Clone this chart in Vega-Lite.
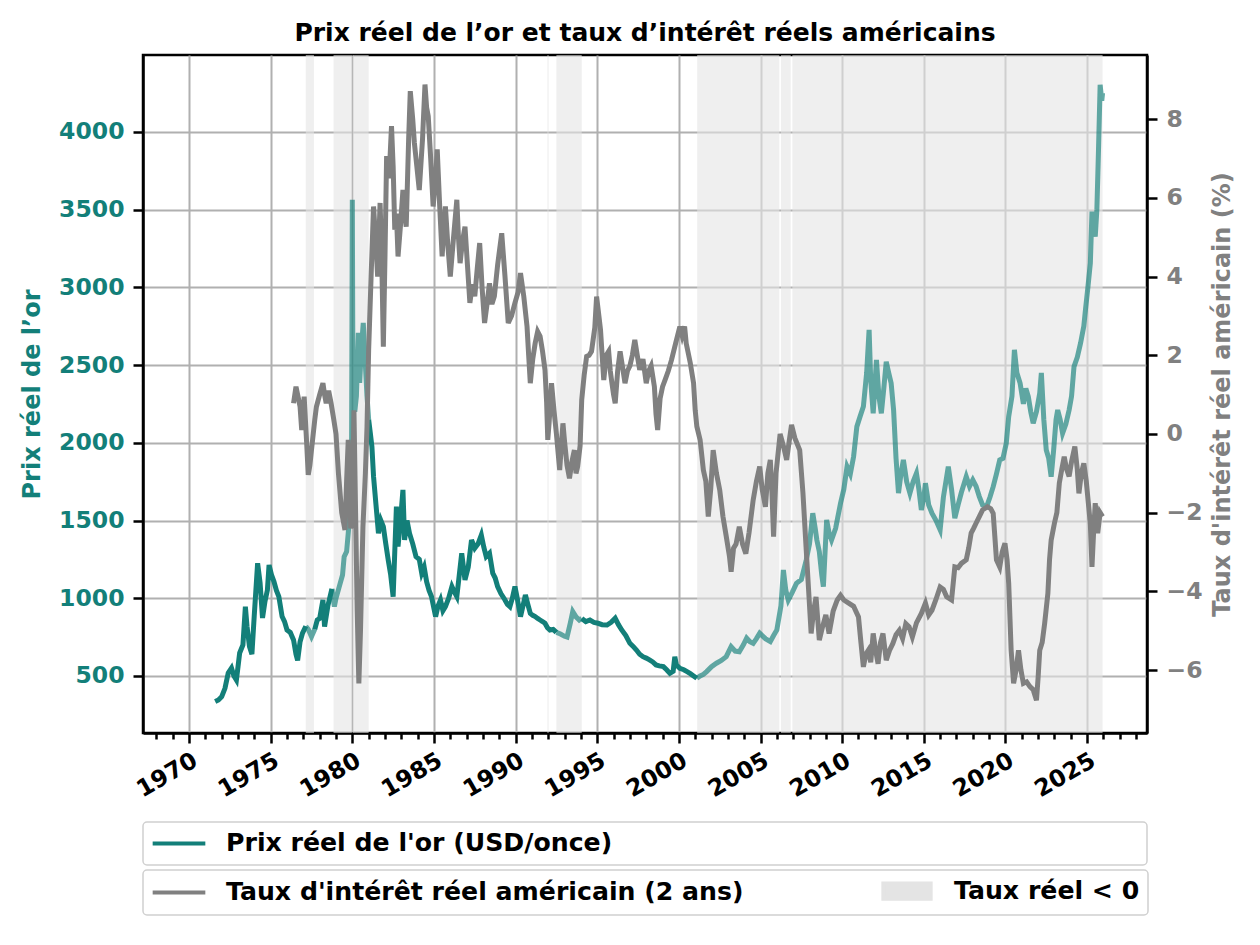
{
  "$schema": "https://vega.github.io/schema/vega-lite/v6.json",
  "width": 1004,
  "height": 678,
  "autosize": {"type": "none"},
  "padding": {"left": 143, "top": 55, "right": 113, "bottom": 212},
  "background": "white",
  "title": {"text": "Prix réel de l’or et taux d’intérêt réels américains", "font": "DejaVu Sans", "fontSize": 25, "fontWeight": "bold", "color": "black", "anchor": "middle", "offset": 9},
  "config": {
    "font": "DejaVu Sans",
    "view": {"stroke": "black", "strokeWidth": 2.5},
    "legend": {"labelFont": "DejaVu Sans", "labelFontSize": 25.2, "labelFontWeight": "bold", "labelColor": "black", "labelLimit": 800, "fillColor": "white", "strokeColor": "#d0d0d0", "strokeWidth": 1.5, "cornerRadius": 4}
  },
  "datasets": {
    "gold": [
      {"t":1971.6,"g":335,"s":0,"r":"pos"},{"t":1971.8,"g":345,"s":0,"r":"pos"},{"t":1972.0,"g":367,"s":0,"r":"pos"},{"t":1972.2,"g":420,"s":0,"r":"pos"},{"t":1972.4,"g":519,"s":0,"r":"pos"},{"t":1972.6,"g":551,"s":0,"r":"pos"},{"t":1972.75,"g":500,"s":0,"r":"pos"},{"t":1972.9,"g":474,"s":0,"r":"pos"},{"t":1973.0,"g":560,"s":0,"r":"pos"},{"t":1973.1,"g":648,"s":0,"r":"pos"},{"t":1973.3,"g":700,"s":0,"r":"pos"},{"t":1973.45,"g":946,"s":0,"r":"pos"},{"t":1973.55,"g":820,"s":0,"r":"pos"},{"t":1973.7,"g":689,"s":0,"r":"pos"},{"t":1973.85,"g":640,"s":0,"r":"pos"},{"t":1974.0,"g":900,"s":0,"r":"pos"},{"t":1974.2,"g":1225,"s":0,"r":"pos"},{"t":1974.35,"g":1100,"s":0,"r":"pos"},{"t":1974.5,"g":873,"s":0,"r":"pos"},{"t":1974.65,"g":980,"s":0,"r":"pos"},{"t":1974.8,"g":1053,"s":0,"r":"pos"},{"t":1974.9,"g":1214,"s":0,"r":"pos"},{"t":1975.05,"g":1150,"s":0,"r":"pos"},{"t":1975.2,"g":1107,"s":0,"r":"pos"},{"t":1975.35,"g":1050,"s":0,"r":"pos"},{"t":1975.5,"g":1010,"s":0,"r":"pos"},{"t":1975.7,"g":882,"s":0,"r":"pos"},{"t":1975.85,"g":850,"s":0,"r":"pos"},{"t":1976.0,"g":796,"s":0,"r":"pos"},{"t":1976.2,"g":780,"s":0,"r":"pos"},{"t":1976.4,"g":732,"s":0,"r":"pos"},{"t":1976.55,"g":640,"s":0,"r":"pos"},{"t":1976.65,"g":600,"s":0,"r":"pos"},{"t":1976.8,"g":720,"s":0,"r":"pos"},{"t":1976.95,"g":776,"s":0,"r":"pos"},{"t":1977.15,"g":820,"s":0,"r":"pos"},
      {"t":1977.15,"g":820,"s":1,"r":"neg"},{"t":1977.3,"g":800,"s":1,"r":"neg"},{"t":1977.5,"g":753,"s":1,"r":"neg"},{"t":1977.7,"g":800,"s":1,"r":"neg"},
      {"t":1977.7,"g":800,"s":2,"r":"pos"},{"t":1977.85,"g":860,"s":2,"r":"pos"},{"t":1978.0,"g":870,"s":2,"r":"pos"},{"t":1978.2,"g":989,"s":2,"r":"pos"},{"t":1978.3,"g":817,"s":2,"r":"pos"},{"t":1978.5,"g":950,"s":2,"r":"pos"},{"t":1978.75,"g":1060,"s":2,"r":"pos"},
      {"t":1978.75,"g":1060,"s":3,"r":"neg"},{"t":1978.9,"g":946,"s":3,"r":"neg"},{"t":1979.0,"g":1000,"s":3,"r":"neg"},{"t":1979.2,"g":1075,"s":3,"r":"neg"},{"t":1979.4,"g":1150,"s":3,"r":"neg"},{"t":1979.5,"g":1268,"s":3,"r":"neg"},{"t":1979.65,"g":1300,"s":3,"r":"neg"},{"t":1979.75,"g":1418,"s":3,"r":"neg"},{"t":1979.85,"g":1550,"s":3,"r":"neg"},{"t":1979.95,"g":1800,"s":3,"r":"neg"},{"t":1980.0,"g":3563,"s":3,"r":"neg"},{"t":1980.03,"g":2600,"s":3,"r":"neg"},{"t":1980.08,"g":2400,"s":3,"r":"neg"},{"t":1980.15,"g":2200,"s":3,"r":"neg"},{"t":1980.25,"g":2300,"s":3,"r":"neg"},{"t":1980.37,"g":2707,"s":3,"r":"neg"},{"t":1980.45,"g":2385,"s":3,"r":"neg"},{"t":1980.55,"g":2600,"s":3,"r":"neg"},{"t":1980.67,"g":2772,"s":3,"r":"neg"},{"t":1980.8,"g":2500,"s":3,"r":"neg"},{"t":1980.9,"g":2300,"s":3,"r":"neg"},{"t":1981.0,"g":2150,"s":3,"r":"neg"},
      {"t":1981.0,"g":2150,"s":4,"r":"pos"},{"t":1981.1,"g":2064,"s":4,"r":"pos"},{"t":1981.2,"g":1975,"s":4,"r":"pos"},{"t":1981.3,"g":1782,"s":4,"r":"pos"},{"t":1981.45,"g":1600,"s":4,"r":"pos"},{"t":1981.6,"g":1418,"s":4,"r":"pos"},{"t":1981.75,"g":1500,"s":4,"r":"pos"},{"t":1981.9,"g":1461,"s":4,"r":"pos"},{"t":1982.05,"g":1350,"s":4,"r":"pos"},{"t":1982.2,"g":1246,"s":4,"r":"pos"},{"t":1982.35,"g":1150,"s":4,"r":"pos"},{"t":1982.5,"g":1010,"s":4,"r":"pos"},{"t":1982.6,"g":1300,"s":4,"r":"pos"},{"t":1982.7,"g":1589,"s":4,"r":"pos"},{"t":1982.8,"g":1332,"s":4,"r":"pos"},{"t":1982.95,"g":1500,"s":4,"r":"pos"},{"t":1983.1,"g":1697,"s":4,"r":"pos"},{"t":1983.2,"g":1375,"s":4,"r":"pos"},{"t":1983.35,"g":1500,"s":4,"r":"pos"},{"t":1983.5,"g":1418,"s":4,"r":"pos"},{"t":1983.7,"g":1350,"s":4,"r":"pos"},{"t":1983.9,"g":1268,"s":4,"r":"pos"},{"t":1984.1,"g":1250,"s":4,"r":"pos"},{"t":1984.25,"g":1161,"s":4,"r":"pos"},{"t":1984.4,"g":1200,"s":4,"r":"pos"},{"t":1984.55,"g":1107,"s":4,"r":"pos"},{"t":1984.7,"g":1050,"s":4,"r":"pos"},{"t":1984.85,"g":1010,"s":4,"r":"pos"},{"t":1985.1,"g":882,"s":4,"r":"pos"},{"t":1985.25,"g":950,"s":4,"r":"pos"},{"t":1985.4,"g":989,"s":4,"r":"pos"},{"t":1985.55,"g":920,"s":4,"r":"pos"},{"t":1985.7,"g":946,"s":4,"r":"pos"},{"t":1985.9,"g":1000,"s":4,"r":"pos"},{"t":1986.1,"g":1075,"s":4,"r":"pos"},{"t":1986.25,"g":1040,"s":4,"r":"pos"},{"t":1986.4,"g":1010,"s":4,"r":"pos"},{"t":1986.55,"g":1150,"s":4,"r":"pos"},{"t":1986.7,"g":1289,"s":4,"r":"pos"},{"t":1986.9,"g":1118,"s":4,"r":"pos"},{"t":1987.1,"g":1200,"s":4,"r":"pos"},{"t":1987.3,"g":1375,"s":4,"r":"pos"},{"t":1987.5,"g":1322,"s":4,"r":"pos"},{"t":1987.7,"g":1350,"s":4,"r":"pos"},{"t":1987.9,"g":1407,"s":4,"r":"pos"},{"t":1988.05,"g":1330,"s":4,"r":"pos"},{"t":1988.2,"g":1268,"s":4,"r":"pos"},{"t":1988.4,"g":1289,"s":4,"r":"pos"},{"t":1988.6,"g":1161,"s":4,"r":"pos"},{"t":1988.75,"g":1130,"s":4,"r":"pos"},{"t":1988.9,"g":1075,"s":4,"r":"pos"},{"t":1989.1,"g":1030,"s":4,"r":"pos"},{"t":1989.35,"g":989,"s":4,"r":"pos"},{"t":1989.5,"g":960,"s":4,"r":"pos"},{"t":1989.65,"g":946,"s":4,"r":"pos"},{"t":1989.8,"g":1000,"s":4,"r":"pos"},{"t":1989.96,"g":1075,"s":4,"r":"pos"},{"t":1990.1,"g":1000,"s":4,"r":"pos"},{"t":1990.3,"g":882,"s":4,"r":"pos"},{"t":1990.45,"g":950,"s":4,"r":"pos"},{"t":1990.6,"g":1021,"s":4,"r":"pos"},{"t":1990.75,"g":960,"s":4,"r":"pos"},{"t":1990.9,"g":903,"s":4,"r":"pos"},{"t":1991.05,"g":890,"s":4,"r":"pos"},{"t":1991.2,"g":882,"s":4,"r":"pos"},{"t":1991.35,"g":870,"s":4,"r":"pos"},{"t":1991.5,"g":860,"s":4,"r":"pos"},{"t":1991.65,"g":850,"s":4,"r":"pos"},{"t":1991.8,"g":839,"s":4,"r":"pos"},{"t":1991.95,"g":810,"s":4,"r":"pos"},{"t":1992.1,"g":796,"s":4,"r":"pos"},{"t":1992.3,"g":800,"s":4,"r":"pos"},{"t":1992.5,"g":780,"s":4,"r":"pos"},
      {"t":1992.5,"g":780,"s":5,"r":"neg"},{"t":1992.75,"g":770,"s":5,"r":"neg"},{"t":1993.0,"g":755,"s":5,"r":"neg"},{"t":1993.15,"g":750,"s":5,"r":"neg"},{"t":1993.35,"g":840,"s":5,"r":"neg"},{"t":1993.5,"g":914,"s":5,"r":"neg"},{"t":1993.7,"g":880,"s":5,"r":"neg"},{"t":1993.9,"g":860,"s":5,"r":"neg"},{"t":1994.05,"g":870,"s":5,"r":"neg"},
      {"t":1994.05,"g":870,"s":6,"r":"pos"},{"t":1994.3,"g":850,"s":6,"r":"pos"},{"t":1994.55,"g":860,"s":6,"r":"pos"},{"t":1994.8,"g":845,"s":6,"r":"pos"},{"t":1995.05,"g":839,"s":6,"r":"pos"},{"t":1995.3,"g":830,"s":6,"r":"pos"},{"t":1995.6,"g":828,"s":6,"r":"pos"},{"t":1995.85,"g":845,"s":6,"r":"pos"},{"t":1996.1,"g":871,"s":6,"r":"pos"},{"t":1996.3,"g":830,"s":6,"r":"pos"},{"t":1996.5,"g":796,"s":6,"r":"pos"},{"t":1996.75,"g":760,"s":6,"r":"pos"},{"t":1997.0,"g":710,"s":6,"r":"pos"},{"t":1997.2,"g":690,"s":6,"r":"pos"},{"t":1997.4,"g":667,"s":6,"r":"pos"},{"t":1997.6,"g":640,"s":6,"r":"pos"},{"t":1997.8,"g":624,"s":6,"r":"pos"},{"t":1998.0,"g":615,"s":6,"r":"pos"},{"t":1998.2,"g":603,"s":6,"r":"pos"},{"t":1998.4,"g":590,"s":6,"r":"pos"},{"t":1998.6,"g":571,"s":6,"r":"pos"},{"t":1998.8,"g":565,"s":6,"r":"pos"},{"t":1999.05,"g":560,"s":6,"r":"pos"},{"t":1999.25,"g":540,"s":6,"r":"pos"},{"t":1999.45,"g":517,"s":6,"r":"pos"},{"t":1999.65,"g":530,"s":6,"r":"pos"},{"t":1999.75,"g":624,"s":6,"r":"pos"},{"t":1999.85,"g":570,"s":6,"r":"pos"},{"t":2000.06,"g":549,"s":6,"r":"pos"},{"t":2000.3,"g":540,"s":6,"r":"pos"},{"t":2000.5,"g":528,"s":6,"r":"pos"},{"t":2000.7,"g":515,"s":6,"r":"pos"},{"t":2000.9,"g":500,"s":6,"r":"pos"},{"t":2001.1,"g":485,"s":6,"r":"pos"},
      {"t":2001.1,"g":485,"s":7,"r":"neg"},{"t":2001.3,"g":500,"s":7,"r":"neg"},{"t":2001.5,"g":510,"s":7,"r":"neg"},{"t":2001.7,"g":528,"s":7,"r":"neg"},{"t":2002.0,"g":560,"s":7,"r":"neg"},{"t":2002.3,"g":582,"s":7,"r":"neg"},{"t":2002.6,"g":600,"s":7,"r":"neg"},{"t":2002.9,"g":624,"s":7,"r":"neg"},{"t":2003.2,"g":689,"s":7,"r":"neg"},{"t":2003.45,"g":660,"s":7,"r":"neg"},{"t":2003.7,"g":656,"s":7,"r":"neg"},{"t":2003.95,"g":700,"s":7,"r":"neg"},{"t":2004.15,"g":743,"s":7,"r":"neg"},{"t":2004.35,"g":720,"s":7,"r":"neg"},{"t":2004.55,"g":710,"s":7,"r":"neg"},{"t":2004.75,"g":740,"s":7,"r":"neg"},{"t":2004.95,"g":775,"s":7,"r":"neg"},{"t":2005.3,"g":740,"s":7,"r":"neg"},{"t":2005.6,"g":721,"s":7,"r":"neg"},{"t":2005.8,"g":760,"s":7,"r":"neg"},{"t":2006.0,"g":796,"s":7,"r":"neg"},{"t":2006.25,"g":950,"s":7,"r":"neg"},{"t":2006.4,"g":1182,"s":7,"r":"neg"},{"t":2006.55,"g":1050,"s":7,"r":"neg"},{"t":2006.7,"g":989,"s":7,"r":"neg"},{"t":2006.95,"g":1040,"s":7,"r":"neg"},{"t":2007.2,"g":1096,"s":7,"r":"neg"},{"t":2007.5,"g":1120,"s":7,"r":"neg"},{"t":2007.8,"g":1246,"s":7,"r":"neg"},{"t":2008.0,"g":1350,"s":7,"r":"neg"},{"t":2008.2,"g":1547,"s":7,"r":"neg"},{"t":2008.35,"g":1450,"s":7,"r":"neg"},{"t":2008.45,"g":1375,"s":7,"r":"neg"},{"t":2008.6,"g":1300,"s":7,"r":"neg"},{"t":2008.75,"g":1150,"s":7,"r":"neg"},{"t":2008.85,"g":1075,"s":7,"r":"neg"},{"t":2009.05,"g":1504,"s":7,"r":"neg"},{"t":2009.2,"g":1420,"s":7,"r":"neg"},{"t":2009.35,"g":1375,"s":7,"r":"neg"},{"t":2009.6,"g":1450,"s":7,"r":"neg"},{"t":2009.9,"g":1611,"s":7,"r":"neg"},{"t":2010.1,"g":1700,"s":7,"r":"neg"},{"t":2010.3,"g":1847,"s":7,"r":"neg"},{"t":2010.5,"g":1800,"s":7,"r":"neg"},{"t":2010.7,"g":1911,"s":7,"r":"neg"},{"t":2010.9,"g":2104,"s":7,"r":"neg"},{"t":2011.1,"g":2170,"s":7,"r":"neg"},{"t":2011.3,"g":2233,"s":7,"r":"neg"},{"t":2011.5,"g":2450,"s":7,"r":"neg"},{"t":2011.65,"g":2727,"s":7,"r":"neg"},{"t":2011.75,"g":2400,"s":7,"r":"neg"},{"t":2011.9,"g":2190,"s":7,"r":"neg"},{"t":2012.1,"g":2533,"s":7,"r":"neg"},{"t":2012.25,"g":2300,"s":7,"r":"neg"},{"t":2012.4,"g":2190,"s":7,"r":"neg"},{"t":2012.55,"g":2350,"s":7,"r":"neg"},{"t":2012.7,"g":2522,"s":7,"r":"neg"},{"t":2012.85,"g":2450,"s":7,"r":"neg"},{"t":2013.0,"g":2383,"s":7,"r":"neg"},{"t":2013.15,"g":2211,"s":7,"r":"neg"},{"t":2013.3,"g":1900,"s":7,"r":"neg"},{"t":2013.45,"g":1676,"s":7,"r":"neg"},{"t":2013.6,"g":1800,"s":7,"r":"neg"},{"t":2013.75,"g":1890,"s":7,"r":"neg"},{"t":2013.95,"g":1750,"s":7,"r":"neg"},{"t":2014.15,"g":1676,"s":7,"r":"neg"},{"t":2014.35,"g":1750,"s":7,"r":"neg"},{"t":2014.55,"g":1804,"s":7,"r":"neg"},{"t":2014.7,"g":1700,"s":7,"r":"neg"},{"t":2014.85,"g":1568,"s":7,"r":"neg"},{"t":2015.0,"g":1650,"s":7,"r":"neg"},{"t":2015.1,"g":1740,"s":7,"r":"neg"},{"t":2015.3,"g":1600,"s":7,"r":"neg"},{"t":2015.5,"g":1547,"s":7,"r":"neg"},{"t":2015.75,"g":1500,"s":7,"r":"neg"},{"t":2016.0,"g":1440,"s":7,"r":"neg"},{"t":2016.2,"g":1650,"s":7,"r":"neg"},{"t":2016.5,"g":1847,"s":7,"r":"neg"},{"t":2016.7,"g":1700,"s":7,"r":"neg"},{"t":2016.9,"g":1515,"s":7,"r":"neg"},{"t":2017.1,"g":1600,"s":7,"r":"neg"},{"t":2017.3,"g":1680,"s":7,"r":"neg"},{"t":2017.6,"g":1782,"s":7,"r":"neg"},{"t":2017.8,"g":1720,"s":7,"r":"neg"},{"t":2018.0,"g":1761,"s":7,"r":"neg"},{"t":2018.2,"g":1720,"s":7,"r":"neg"},{"t":2018.4,"g":1654,"s":7,"r":"neg"},{"t":2018.6,"g":1600,"s":7,"r":"neg"},{"t":2018.85,"g":1590,"s":7,"r":"neg"},{"t":2019.05,"g":1650,"s":7,"r":"neg"},{"t":2019.25,"g":1718,"s":7,"r":"neg"},{"t":2019.45,"g":1800,"s":7,"r":"neg"},{"t":2019.65,"g":1890,"s":7,"r":"neg"},{"t":2019.85,"g":1900,"s":7,"r":"neg"},{"t":2020.05,"g":1997,"s":7,"r":"neg"},{"t":2020.2,"g":2169,"s":7,"r":"neg"},{"t":2020.4,"g":2300,"s":7,"r":"neg"},{"t":2020.55,"g":2598,"s":7,"r":"neg"},{"t":2020.7,"g":2450,"s":7,"r":"neg"},{"t":2020.9,"g":2383,"s":7,"r":"neg"},{"t":2021.1,"g":2250,"s":7,"r":"neg"},{"t":2021.25,"g":2350,"s":7,"r":"neg"},{"t":2021.4,"g":2297,"s":7,"r":"neg"},{"t":2021.55,"g":2200,"s":7,"r":"neg"},{"t":2021.7,"g":2126,"s":7,"r":"neg"},{"t":2021.9,"g":2200,"s":7,"r":"neg"},{"t":2022.1,"g":2319,"s":7,"r":"neg"},{"t":2022.2,"g":2450,"s":7,"r":"neg"},{"t":2022.35,"g":2150,"s":7,"r":"neg"},{"t":2022.5,"g":1954,"s":7,"r":"neg"},{"t":2022.65,"g":1900,"s":7,"r":"neg"},{"t":2022.8,"g":1782,"s":7,"r":"neg"},{"t":2022.95,"g":1950,"s":7,"r":"neg"},{"t":2023.1,"g":2150,"s":7,"r":"neg"},{"t":2023.2,"g":2211,"s":7,"r":"neg"},{"t":2023.35,"g":2150,"s":7,"r":"neg"},{"t":2023.5,"g":2061,"s":7,"r":"neg"},{"t":2023.7,"g":2120,"s":7,"r":"neg"},{"t":2023.9,"g":2211,"s":7,"r":"neg"},{"t":2024.05,"g":2300,"s":7,"r":"neg"},{"t":2024.2,"g":2490,"s":7,"r":"neg"},{"t":2024.4,"g":2550,"s":7,"r":"neg"},{"t":2024.6,"g":2641,"s":7,"r":"neg"},{"t":2024.8,"g":2750,"s":7,"r":"neg"},{"t":2024.9,"g":2855,"s":7,"r":"neg"},{"t":2025.05,"g":3000,"s":7,"r":"neg"},{"t":2025.2,"g":3156,"s":7,"r":"neg"},{"t":2025.3,"g":3488,"s":7,"r":"neg"},{"t":2025.4,"g":3400,"s":7,"r":"neg"},{"t":2025.5,"g":3327,"s":7,"r":"neg"},{"t":2025.6,"g":3500,"s":7,"r":"neg"},{"t":2025.7,"g":3885,"s":7,"r":"neg"},{"t":2025.8,"g":4303,"s":7,"r":"neg"},{"t":2025.9,"g":4200,"s":7,"r":"neg"},{"t":2025.95,"g":4250,"s":7,"r":"neg"}
    ],
    "rate": [
      {"t":1976.4,"v":0.78},{"t":1976.55,"v":1.2},{"t":1976.7,"v":0.9},{"t":1976.8,"v":0.69},{"t":1976.9,"v":0.1},{"t":1977.05,"v":0.95},{"t":1977.2,"v":-0.2},{"t":1977.3,"v":-1.04},{"t":1977.4,"v":-0.8},{"t":1977.5,"v":-0.4},{"t":1977.7,"v":0.36},{"t":1977.8,"v":0.69},{"t":1978.0,"v":1.0},{"t":1978.2,"v":1.29},{"t":1978.3,"v":1.0},{"t":1978.4,"v":0.78},{"t":1978.55,"v":1.1},{"t":1978.7,"v":0.78},{"t":1978.85,"v":0.4},{"t":1979.0,"v":0.0},{"t":1979.15,"v":-1.0},{"t":1979.35,"v":-2.0},{"t":1979.55,"v":-2.44},{"t":1979.65,"v":-1.2},{"t":1979.75,"v":-0.15},{"t":1979.85,"v":-1.5},{"t":1979.9,"v":-2.4},{"t":1980.0,"v":-2.0},{"t":1980.1,"v":0.6},{"t":1980.2,"v":-2.0},{"t":1980.3,"v":-4.5},{"t":1980.4,"v":-6.34},{"t":1980.5,"v":-5.0},{"t":1980.65,"v":-2.36},{"t":1980.8,"v":-1.0},{"t":1980.9,"v":0.19},{"t":1981.0,"v":2.14},{"t":1981.15,"v":4.0},{"t":1981.3,"v":5.78},{"t":1981.45,"v":4.8},{"t":1981.55,"v":4.0},{"t":1981.7,"v":5.87},{"t":1981.8,"v":4.5},{"t":1981.9,"v":2.22},{"t":1982.0,"v":4.5},{"t":1982.1,"v":7.06},{"t":1982.25,"v":6.5},{"t":1982.4,"v":7.82},{"t":1982.5,"v":6.8},{"t":1982.6,"v":5.19},{"t":1982.7,"v":5.6},{"t":1982.8,"v":4.51},{"t":1982.95,"v":5.3},{"t":1983.1,"v":6.2},{"t":1983.2,"v":5.6},{"t":1983.3,"v":5.27},{"t":1983.45,"v":7.5},{"t":1983.55,"v":8.71},{"t":1983.7,"v":8.0},{"t":1983.8,"v":7.4},{"t":1983.95,"v":6.8},{"t":1984.1,"v":6.2},{"t":1984.3,"v":7.5},{"t":1984.45,"v":8.88},{"t":1984.55,"v":8.3},{"t":1984.65,"v":8.07},{"t":1984.8,"v":7.0},{"t":1984.95,"v":5.78},{"t":1985.1,"v":6.5},{"t":1985.2,"v":7.23},{"t":1985.35,"v":5.8},{"t":1985.5,"v":4.51},{"t":1985.6,"v":5.2},{"t":1985.7,"v":5.78},{"t":1985.85,"v":4.8},{"t":1986.0,"v":4.0},{"t":1986.2,"v":5.0},{"t":1986.4,"v":5.95},{"t":1986.5,"v":5.0},{"t":1986.6,"v":4.34},{"t":1986.75,"v":4.9},{"t":1986.9,"v":5.27},{"t":1987.05,"v":4.3},{"t":1987.2,"v":3.33},{"t":1987.35,"v":3.8},{"t":1987.5,"v":3.5},{"t":1987.65,"v":4.2},{"t":1987.8,"v":4.85},{"t":1987.95,"v":3.7},{"t":1988.1,"v":2.82},{"t":1988.25,"v":3.3},{"t":1988.4,"v":3.83},{"t":1988.55,"v":3.3},{"t":1988.7,"v":3.5},{"t":1988.9,"v":4.3},{"t":1989.15,"v":5.1},{"t":1989.35,"v":4.0},{"t":1989.55,"v":2.82},{"t":1989.75,"v":3.0},{"t":1989.96,"v":3.33},{"t":1990.15,"v":3.6},{"t":1990.3,"v":4.09},{"t":1990.5,"v":3.5},{"t":1990.7,"v":2.73},{"t":1990.8,"v":2.0},{"t":1990.9,"v":1.29},{"t":1991.05,"v":1.9},{"t":1991.2,"v":2.31},{"t":1991.35,"v":2.6},{"t":1991.5,"v":2.48},{"t":1991.65,"v":2.1},{"t":1991.8,"v":1.63},{"t":1991.9,"v":0.8},{"t":1991.97,"v":-0.15},{"t":1992.05,"v":0.27},{"t":1992.2,"v":1.29},{"t":1992.35,"v":0.6},{"t":1992.5,"v":0.0},{"t":1992.7,"v":-0.92},{"t":1992.8,"v":-0.3},{"t":1992.9,"v":0.27},{"t":1993.0,"v":-0.2},{"t":1993.15,"v":-0.8},{"t":1993.3,"v":-1.13},{"t":1993.45,"v":-0.7},{"t":1993.6,"v":-0.41},{"t":1993.7,"v":-1.0},{"t":1993.8,"v":-0.83},{"t":1993.95,"v":-0.3},{"t":1994.05,"v":0.87},{"t":1994.2,"v":1.5},{"t":1994.35,"v":1.97},{"t":1994.5,"v":2.0},{"t":1994.65,"v":2.1},{"t":1994.85,"v":2.7},{"t":1994.96,"v":3.49},{"t":1995.1,"v":3.0},{"t":1995.2,"v":2.65},{"t":1995.3,"v":2.0},{"t":1995.4,"v":1.37},{"t":1995.55,"v":2.0},{"t":1995.7,"v":2.1},{"t":1995.8,"v":1.6},{"t":1995.9,"v":1.29},{"t":1996.0,"v":1.0},{"t":1996.1,"v":0.78},{"t":1996.25,"v":1.6},{"t":1996.4,"v":2.1},{"t":1996.55,"v":1.7},{"t":1996.7,"v":1.29},{"t":1996.85,"v":1.6},{"t":1997.0,"v":1.73},{"t":1997.15,"v":2.0},{"t":1997.3,"v":2.39},{"t":1997.45,"v":2.0},{"t":1997.6,"v":1.63},{"t":1997.8,"v":1.9},{"t":1998.0,"v":1.29},{"t":1998.15,"v":1.6},{"t":1998.3,"v":1.73},{"t":1998.5,"v":1.2},{"t":1998.6,"v":0.5},{"t":1998.7,"v":0.1},{"t":1998.85,"v":0.9},{"t":1999.0,"v":1.2},{"t":1999.15,"v":1.37},{"t":1999.35,"v":1.6},{"t":1999.55,"v":1.88},{"t":1999.8,"v":2.3},{"t":2000.06,"v":2.73},{"t":2000.2,"v":2.5},{"t":2000.35,"v":2.73},{"t":2000.45,"v":2.3},{"t":2000.55,"v":2.1},{"t":2000.7,"v":1.8},{"t":2000.9,"v":1.29},{"t":2001.0,"v":0.6},{"t":2001.1,"v":0.19},{"t":2001.3,"v":-0.15},{"t":2001.5,"v":-0.92},{"t":2001.65,"v":-1.2},{"t":2001.8,"v":-2.1},{"t":2001.95,"v":-1.4},{"t":2002.1,"v":-0.41},{"t":2002.3,"v":-1.0},{"t":2002.5,"v":-1.42},{"t":2002.7,"v":-2.1},{"t":2002.9,"v":-2.6},{"t":2003.1,"v":-3.12},{"t":2003.2,"v":-3.5},{"t":2003.35,"v":-2.9},{"t":2003.5,"v":-2.8},{"t":2003.7,"v":-2.36},{"t":2003.9,"v":-2.8},{"t":2004.1,"v":-3.04},{"t":2004.3,"v":-2.5},{"t":2004.55,"v":-1.68},{"t":2004.75,"v":-1.2},{"t":2004.95,"v":-0.83},{"t":2005.1,"v":-1.4},{"t":2005.3,"v":-1.85},{"t":2005.45,"v":-1.0},{"t":2005.6,"v":-0.66},{"t":2005.7,"v":-1.5},{"t":2005.8,"v":-2.61},{"t":2005.95,"v":-1.0},{"t":2006.2,"v":0.0},{"t":2006.4,"v":-0.3},{"t":2006.6,"v":-0.66},{"t":2006.75,"v":-0.2},{"t":2006.9,"v":0.23},{"t":2007.1,"v":-0.1},{"t":2007.4,"v":-0.41},{"t":2007.6,"v":-1.51},{"t":2007.8,"v":-2.95},{"t":2007.95,"v":-4.0},{"t":2008.1,"v":-5.07},{"t":2008.25,"v":-4.5},{"t":2008.4,"v":-4.14},{"t":2008.6,"v":-5.24},{"t":2008.8,"v":-4.9},{"t":2009.0,"v":-4.6},{"t":2009.2,"v":-5.07},{"t":2009.45,"v":-4.5},{"t":2009.7,"v":-4.22},{"t":2009.9,"v":-4.1},{"t":2010.1,"v":-4.22},{"t":2010.4,"v":-4.3},{"t":2010.7,"v":-4.38},{"t":2011.0,"v":-4.65},{"t":2011.15,"v":-5.3},{"t":2011.3,"v":-5.92},{"t":2011.45,"v":-5.6},{"t":2011.6,"v":-5.5},{"t":2011.75,"v":-5.8},{"t":2011.9,"v":-5.07},{"t":2012.05,"v":-5.5},{"t":2012.2,"v":-5.84},{"t":2012.35,"v":-5.3},{"t":2012.5,"v":-5.07},{"t":2012.7,"v":-5.75},{"t":2012.9,"v":-5.5},{"t":2013.1,"v":-5.33},{"t":2013.3,"v":-5.1},{"t":2013.5,"v":-4.99},{"t":2013.7,"v":-5.2},{"t":2013.9,"v":-4.82},{"t":2014.1,"v":-4.9},{"t":2014.3,"v":-5.16},{"t":2014.55,"v":-4.8},{"t":2014.85,"v":-4.56},{"t":2015.1,"v":-4.3},{"t":2015.3,"v":-4.6},{"t":2015.5,"v":-4.48},{"t":2015.75,"v":-4.2},{"t":2016.0,"v":-3.89},{"t":2016.2,"v":-3.95},{"t":2016.4,"v":-4.14},{"t":2016.7,"v":-4.22},{"t":2016.9,"v":-3.38},{"t":2017.1,"v":-3.4},{"t":2017.3,"v":-3.29},{"t":2017.6,"v":-3.2},{"t":2017.75,"v":-2.9},{"t":2017.9,"v":-2.52},{"t":2018.05,"v":-2.4},{"t":2018.2,"v":-2.27},{"t":2018.4,"v":-2.1},{"t":2018.6,"v":-1.93},{"t":2018.9,"v":-1.85},{"t":2019.1,"v":-1.9},{"t":2019.25,"v":-2.02},{"t":2019.35,"v":-2.6},{"t":2019.45,"v":-3.2},{"t":2019.65,"v":-3.38},{"t":2019.8,"v":-3.0},{"t":2019.97,"v":-2.78},{"t":2020.1,"v":-3.2},{"t":2020.2,"v":-3.8},{"t":2020.35,"v":-5.5},{"t":2020.5,"v":-6.34},{"t":2020.65,"v":-6.0},{"t":2020.8,"v":-5.5},{"t":2020.95,"v":-6.0},{"t":2021.1,"v":-6.34},{"t":2021.3,"v":-6.3},{"t":2021.5,"v":-6.42},{"t":2021.7,"v":-6.5},{"t":2021.9,"v":-6.77},{"t":2022.0,"v":-6.2},{"t":2022.1,"v":-5.5},{"t":2022.25,"v":-5.3},{"t":2022.4,"v":-4.82},{"t":2022.6,"v":-4.05},{"t":2022.7,"v":-3.2},{"t":2022.8,"v":-2.7},{"t":2023.0,"v":-2.27},{"t":2023.15,"v":-2.0},{"t":2023.3,"v":-1.25},{"t":2023.45,"v":-0.9},{"t":2023.6,"v":-0.58},{"t":2023.75,"v":-0.9},{"t":2023.9,"v":-1.08},{"t":2024.05,"v":-0.7},{"t":2024.25,"v":-0.32},{"t":2024.4,"v":-0.9},{"t":2024.5,"v":-1.51},{"t":2024.65,"v":-1.0},{"t":2024.8,"v":-0.75},{"t":2024.95,"v":-1.2},{"t":2025.1,"v":-1.85},{"t":2025.2,"v":-2.3},{"t":2025.3,"v":-3.38},{"t":2025.4,"v":-2.5},{"t":2025.5,"v":-1.76},{"t":2025.65,"v":-2.52},{"t":2025.8,"v":-2.0},{"t":2025.95,"v":-2.1}
    ],
    "neg": [
      {"t":1977.15,"t2":1977.65},{"t":1978.85,"t2":1979.97},{"t":1980.03,"t2":1981.0},{"t":1991.95,"t2":1992.02},{"t":1992.5,"t2":1994.05},{"t":2001.12,"t2":2006.15},{"t":2006.25,"t2":2006.85},{"t":2006.95,"t2":2025.95}
    ]
  },
  "layer": [
    {
      "data": {"name": "neg"},
      "mark": {"type": "rect", "opacity": 0.6},
      "encoding": {
        "x": {"field": "t", "type": "quantitative",
          "scale": {"domain": [1967.18, 2028.67], "nice": false, "zero": false},
          "axis": {"title": null, "tickCount": 200,
            "values": [1968,1969,1970,1971,1972,1973,1974,1975,1976,1977,1978,1979,1980,1981,1982,1983,1984,1985,1986,1987,1988,1989,1990,1991,1992,1993,1994,1995,1996,1997,1998,1999,2000,2001,2002,2003,2004,2005,2006,2007,2008,2009,2010,2011,2012,2013,2014,2015,2016,2017,2018,2019,2020,2021,2022,2023,2024,2025,2026,2027,2028],
            "labelExpr": "datum.value % 5 === 0 ? '' + datum.value : ''",
            "labelAngle": -30, "labelFontSize": 23.5, "labelFontWeight": "bold", "labelColor": "black", "labelFont": "DejaVu Sans",
            "labelOverlap": false, "labelBound": false, "labelPadding": 5,
            "tickSize": {"condition": {"test": "datum.value % 5 === 0", "value": 10}, "value": 6},
            "tickColor": "black", "tickWidth": 2.5,
            "grid": true, "gridColor": "#b0b0b0", "gridWidth": 2,
            "gridOpacity": {"condition": {"test": "datum.value % 5 === 0", "value": 1}, "value": 0},
            "domainColor": "black", "domainWidth": 2.5}},
        "x2": {"field": "t2"},
        "fill": {"datum": "Taux réel < 0", "type": "nominal",
          "scale": {"domain": ["Taux d'intérêt réel américain (2 ans)", "Taux réel < 0"], "range": ["transparent", "#e4e4e4"]},
          "legend": {"title": null, "orient": "none", "legendX": 0, "legendY": 815, "direction": "horizontal", "columns": 2, "columnPadding": 131,
            "padding": 8, "symbolSize": 462, "symbolStrokeWidth": 4, "symbolOffset": 15, "labelOffset": 34, "symbolOpacity": 1,
            "symbolType": {"expr": "datum.value === 'Taux réel < 0' ? 'M-2.2,-0.72H2.2V0.72H-2.2Z' : 'M-2.45,0H2.45'"}}}
      }
    },
    {
      "data": {"name": "gold"},
      "mark": {"type": "line", "strokeWidth": 5, "clip": true},
      "encoding": {
        "x": {"field": "t", "type": "quantitative"},
        "y": {"field": "g", "type": "quantitative",
          "scale": {"domain": [133, 4495], "nice": false, "zero": false},
          "axis": {"orient": "left", "values": [500,1000,1500,2000,2500,3000,3500,4000], "format": "d",
            "title": "Prix réel de l’or", "titleColor": "#137f79", "titleFontSize": 24, "titleFontWeight": "bold", "titleFont": "DejaVu Sans", "titlePadding": 14,
            "labelColor": "#137f79", "labelFontSize": 23.5, "labelFontWeight": "bold", "labelFont": "DejaVu Sans", "labelPadding": 9,
            "tickSize": 10, "tickColor": "black", "tickWidth": 2.5,
            "grid": true, "gridColor": "#b0b0b0", "gridWidth": 2,
            "domainColor": "black", "domainWidth": 2.5}},
        "color": {"datum": "Prix réel de l'or (USD/once)", "type": "nominal",
          "scale": {"domain": ["Prix réel de l'or (USD/once)", ""], "range": ["#137f79", "transparent"]},
          "legend": {"title": null, "orient": "none", "legendX": 0, "legendY": 767, "padding": 8, "direction": "horizontal", "columns": 2, "columnPadding": 444,
            "symbolSize": 462, "symbolStrokeWidth": 4, "symbolOffset": 15, "labelOffset": 34, "symbolOpacity": 1,
            "symbolType": "M-2.45,0H2.45"}},
        "opacity": {"field": "r", "type": "nominal", "scale": {"domain": ["pos", "neg"], "range": [1, 0.66]}, "legend": null},
        "detail": {"field": "s", "type": "nominal"}
      }
    },
    {
      "data": {"name": "rate"},
      "mark": {"type": "line", "strokeWidth": 5, "clip": true},
      "encoding": {
        "x": {"field": "t", "type": "quantitative"},
        "y": {"field": "v", "type": "quantitative",
          "scale": {"domain": [-7.6, 9.63], "nice": false, "zero": false},
          "axis": {"orient": "right", "values": [-6,-4,-2,0,2,4,6,8],
            "title": "Taux d'intérêt réel américain (%)", "titleColor": "#808080", "titleFontSize": 24, "titleFontWeight": "bold", "titleFont": "DejaVu Sans", "titlePadding": 8, "titleAngle": 270, "titleBaseline": "top",
            "labelColor": "#808080", "labelFontSize": 23.5, "labelFontWeight": "bold", "labelFont": "DejaVu Sans", "labelPadding": 9,
            "tickSize": 10, "tickColor": "black", "tickWidth": 2.5, "grid": false,
            "domainColor": "black", "domainWidth": 2.5}},
        "stroke": {"datum": "Taux d'intérêt réel américain (2 ans)", "type": "nominal",
          "scale": {"domain": ["Taux d'intérêt réel américain (2 ans)", "Taux réel < 0"], "range": ["#808080", "#e4e4e4"]},
          "legend": {"title": null, "orient": "none", "legendX": 0, "legendY": 815, "direction": "horizontal", "columns": 2, "columnPadding": 131,
            "padding": 8, "symbolSize": 462, "symbolStrokeWidth": 4, "symbolOffset": 15, "labelOffset": 34, "symbolOpacity": 1,
            "symbolType": {"expr": "datum.value === 'Taux réel < 0' ? 'M-2.2,-0.72H2.2V0.72H-2.2Z' : 'M-2.45,0H2.45'"}}}
      }
    },
    {
      "mark": {"type": "rule", "color": "black", "strokeWidth": 2.5},
      "encoding": {
        "y": {"datum": 0, "type": "quantitative", "scale": {"domain": [-7.6, 9.63], "nice": false, "zero": false}, "axis": null}
      }
    }
  ],
  "resolve": {"scale": {"y": "independent"}}
}
